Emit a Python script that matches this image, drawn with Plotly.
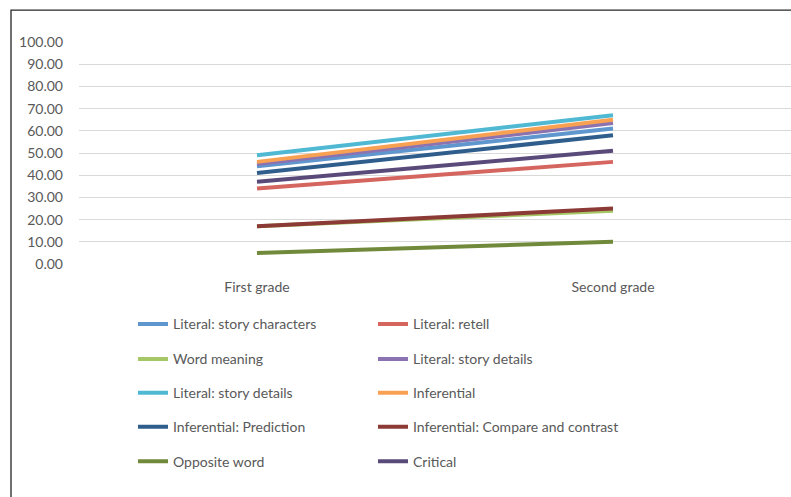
import plotly.graph_objects as go

grades = ["First grade", "Second grade"]

series_names = [
    "Literal: story characters",
    "Literal: retell",
    "Word meaning",
    "Literal: story details",
    "Literal: story details",
    "Inferential",
    "Inferential: Prediction",
    "Inferential: Compare and contrast",
    "Opposite word",
    "Critical",
]

story_characters = [44.0, 61.0]
retell = [34.0, 46.0]
word_meaning = [17.0, 24.0]
story_details_a = [45.0, 63.5]
story_details_b = [49.0, 67.0]
inferential = [46.0, 65.0]
prediction = [41.0, 58.0]
compare_contrast = [17.0, 25.0]
opposite_word = [5.0, 10.0]
critical = [37.0, 51.0]

series_values = [
    story_characters, retell, word_meaning, story_details_a, story_details_b,
    inferential, prediction, compare_contrast, opposite_word, critical,
]

colors = [
    "#5F96CE", "#D5655F", "#A6C765", "#8B72B0", "#4FB8D2",
    "#F9A153", "#2F5E8C", "#8B3A36", "#71893A", "#5A4A7A",
]

y_ticks = [0, 10, 20, 30, 40, 50, 60, 70, 80, 90, 100]

W, H = 791, 497
PL, PR = 79, 791          # plot area left/right in px
PT, PB = 42, 264.5        # plot area top/bottom in px


def px_x(p):
    return (p - PL) / (PR - PL)


def px_y(p):
    return (PB - p) / (PB - PT)


font = dict(family="Lato, sans-serif", size=14, color="#595959")

# legend grid: two columns, five rows, one legend box per entry
col_x = [133, 373]
row_y = [325, 360, 394, 428, 462.5]

fig = go.Figure()
legend_layout = {}
for i, (name, vals, col) in enumerate(zip(series_names, series_values, colors)):
    lid = "legend" if i == 0 else f"legend{i + 1}"
    fig.add_trace(go.Scatter(
        x=[0, 1], y=vals, name=name, mode="lines",
        line=dict(color=col, width=4),
        legend=lid,
    ))
    legend_layout[lid] = dict(
        orientation="h", x=px_x(col_x[i % 2]), xanchor="left",
        y=px_y(row_y[i // 2]), yanchor="middle",
        font=font, bgcolor="rgba(0,0,0,0)", itemclick=False,
    )

fig.update_layout(
    width=W, height=H,
    margin=dict(l=PL, r=W - PR, t=PT, b=H - PB, pad=0),
    paper_bgcolor="white", plot_bgcolor="white",
    font=font,
    showlegend=True,
    xaxis=dict(
        range=[-0.5, 1.5], tickvals=[0, 1], ticktext=grades,
        showgrid=False, zeroline=False, showline=False,
        ticks="", ticklabelstandoff=13, fixedrange=True,
    ),
    yaxis=dict(
        range=[0, 100], tickvals=y_ticks,
        ticktext=[f"{v:.2f}" for v in y_ticks],
        showgrid=True, gridcolor="#D9D9D9", gridwidth=1,
        zeroline=False, showline=False, ticks="",
        ticklabelstandoff=15, fixedrange=True,
    ),
    shapes=[dict(
        type="rect", xref="paper", yref="paper", layer="above",
        x0=px_x(11), x1=px_x(820), y0=px_y(530), y1=px_y(10),
        line=dict(color="#262626", width=1.3), fillcolor="rgba(0,0,0,0)",
    )],
    **legend_layout,
)

fig.write_html("out.html")
